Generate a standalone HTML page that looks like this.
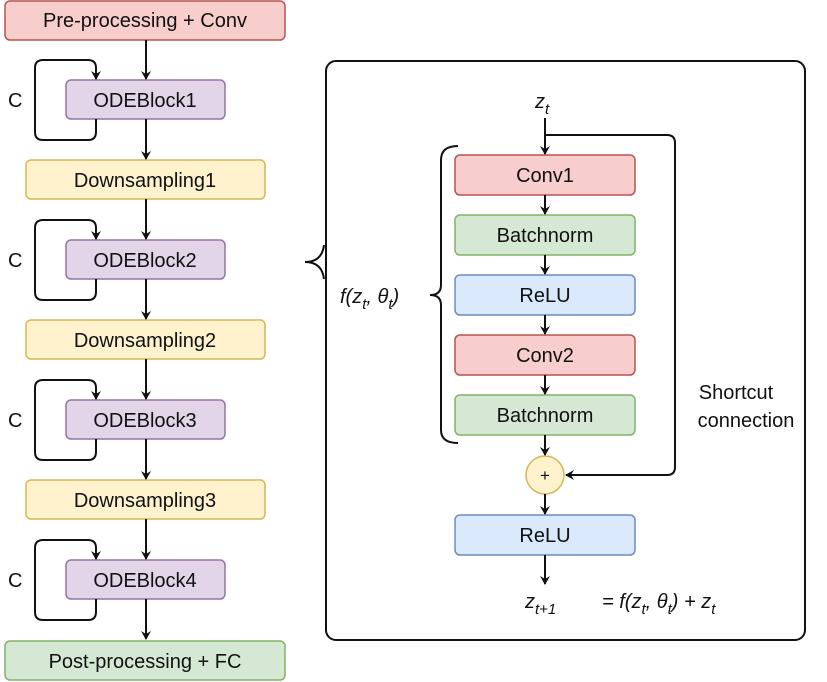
<!DOCTYPE html>
<html><head><meta charset="utf-8"><style>body{margin:0;background:#fff}svg{display:block}text{font-family:"Liberation Sans",sans-serif;font-size:20px;fill:#111}</style></head><body>
<svg width="827" height="682" viewBox="0 0 827 682">
<defs><marker id="a" markerWidth="10" markerHeight="10" refX="8" refY="5" orient="auto" markerUnits="userSpaceOnUse"><path d="M0,0 L9,5 L0,10 L3,5 Z" fill="#111"/></marker></defs>
<g stroke-width="1.5">
<rect x="5" y="1" width="280" height="39" rx="5" fill="#f8cecc" stroke="#b85450"/>
<rect x="5" y="641" width="280" height="39" rx="5" fill="#d5e8d4" stroke="#82b366"/>
<rect x="66" y="80" width="159" height="39" rx="5" fill="#e1d5e7" stroke="#9673a6"/>
<rect x="66" y="240" width="159" height="39" rx="5" fill="#e1d5e7" stroke="#9673a6"/>
<rect x="66" y="400" width="159" height="39" rx="5" fill="#e1d5e7" stroke="#9673a6"/>
<rect x="66" y="560" width="159" height="39" rx="5" fill="#e1d5e7" stroke="#9673a6"/>
<rect x="26" y="160" width="239" height="39" rx="5" fill="#fff2cc" stroke="#d6b656"/>
<rect x="26" y="320" width="239" height="39" rx="5" fill="#fff2cc" stroke="#d6b656"/>
<rect x="26" y="480" width="239" height="39" rx="5" fill="#fff2cc" stroke="#d6b656"/>
</g>
<g stroke="#111" stroke-width="2" fill="none" marker-end="url(#a)">
<line x1="146" y1="40" x2="146" y2="79"/><line x1="146" y1="119" x2="146" y2="159"/>
<line x1="146" y1="199" x2="146" y2="239"/><line x1="146" y1="279" x2="146" y2="319"/>
<line x1="146" y1="359" x2="146" y2="399"/><line x1="146" y1="439" x2="146" y2="479"/>
<line x1="146" y1="519" x2="146" y2="559"/><line x1="146" y1="599" x2="146" y2="639"/>
<path d="M96,119 V132 Q96,140 88,140 H43 Q35,140 35,132 V68 Q35,60 43,60 H88 Q96,60 96,68 V79"/>
<path d="M96,279 V292 Q96,300 88,300 H43 Q35,300 35,292 V228 Q35,220 43,220 H88 Q96,220 96,228 V239"/>
<path d="M96,439 V452 Q96,460 88,460 H43 Q35,460 35,452 V388 Q35,380 43,380 H88 Q96,380 96,388 V399"/>
<path d="M96,599 V612 Q96,620 88,620 H43 Q35,620 35,612 V548 Q35,540 43,540 H88 Q96,540 96,548 V559"/>
</g>
<text x="8" y="107">C</text><text x="8" y="267">C</text><text x="8" y="427">C</text><text x="8" y="587">C</text>
<text x="145" y="27" text-anchor="middle">Pre-processing + Conv</text>
<text x="145" y="107" text-anchor="middle">ODEBlock1</text>
<text x="145" y="187" text-anchor="middle">Downsampling1</text>
<text x="145" y="267" text-anchor="middle">ODEBlock2</text>
<text x="145" y="347" text-anchor="middle">Downsampling2</text>
<text x="145" y="427" text-anchor="middle">ODEBlock3</text>
<text x="145" y="507" text-anchor="middle">Downsampling3</text>
<text x="145" y="587" text-anchor="middle">ODEBlock4</text>
<text x="145" y="668" text-anchor="middle">Post-processing + FC</text>
<rect x="326" y="61" width="479" height="579" rx="10" fill="none" stroke="#111" stroke-width="2"/>
<path d="M305,262 Q322,262 324,245 M305,262 Q322,262 324,279" stroke="#111" stroke-width="2" fill="none"/>
<g stroke-width="1.5">
<rect x="455" y="155" width="180" height="40" rx="5" fill="#f8cecc" stroke="#b85450"/>
<rect x="455" y="215" width="180" height="40" rx="5" fill="#d5e8d4" stroke="#82b366"/>
<rect x="455" y="275" width="180" height="40" rx="5" fill="#dae8fc" stroke="#6c8ebf"/>
<rect x="455" y="335" width="180" height="40" rx="5" fill="#f8cecc" stroke="#b85450"/>
<rect x="455" y="395" width="180" height="40" rx="5" fill="#d5e8d4" stroke="#82b366"/>
<rect x="455" y="515" width="180" height="40" rx="5" fill="#dae8fc" stroke="#6c8ebf"/>
<circle cx="545" cy="475" r="19" fill="#fff2cc" stroke="#d6b656"/>
</g>
<g stroke="#111" stroke-width="2" fill="none" marker-end="url(#a)">
<line x1="545" y1="118" x2="545" y2="154"/><line x1="545" y1="195" x2="545" y2="214"/>
<line x1="545" y1="255" x2="545" y2="274"/><line x1="545" y1="315" x2="545" y2="334"/>
<line x1="545" y1="375" x2="545" y2="394"/><line x1="545" y1="435" x2="545" y2="455"/>
<line x1="545" y1="494" x2="545" y2="514"/><line x1="545" y1="555" x2="545" y2="584"/>
<path d="M545,135 H667 Q675,135 675,143 V467 Q675,475 667,475 H566"/>
</g>
<path d="M458,146 Q441,146 441,160 V285 Q441,295 430,295 Q441,295 441,305 V430 Q441,443 458,443" stroke="#111" stroke-width="2" fill="none"/>
<text x="545" y="182" text-anchor="middle">Conv1</text>
<text x="545" y="242" text-anchor="middle">Batchnorm</text>
<text x="545" y="302" text-anchor="middle">ReLU</text>
<text x="545" y="362" text-anchor="middle">Conv2</text>
<text x="545" y="422" text-anchor="middle">Batchnorm</text>
<text x="545" y="542" text-anchor="middle">ReLU</text>
<text x="545" y="481" text-anchor="middle" style="font-size:17px">+</text>
<text x="736" y="399" text-anchor="middle">Shortcut</text>
<text x="746" y="427" text-anchor="middle">connection</text>
<text x="535" y="108" font-style="italic">z<tspan dy="6" font-size="15">t</tspan></text>
<text x="340" y="303" font-style="italic">f(z<tspan dy="6" font-size="15">t</tspan><tspan dy="-6">, θ</tspan><tspan dy="6" font-size="15">t</tspan><tspan dy="-6">)</tspan></text>
<text x="525" y="608" font-style="italic">z<tspan dy="6" font-size="15">t+1</tspan></text>
<text x="602" y="608" font-style="italic">= f(z<tspan dy="6" font-size="15">t</tspan><tspan dy="-6">, θ</tspan><tspan dy="6" font-size="15">t</tspan><tspan dy="-6">) + z</tspan><tspan dy="6" font-size="15">t</tspan></text>
</svg>
</body></html>
